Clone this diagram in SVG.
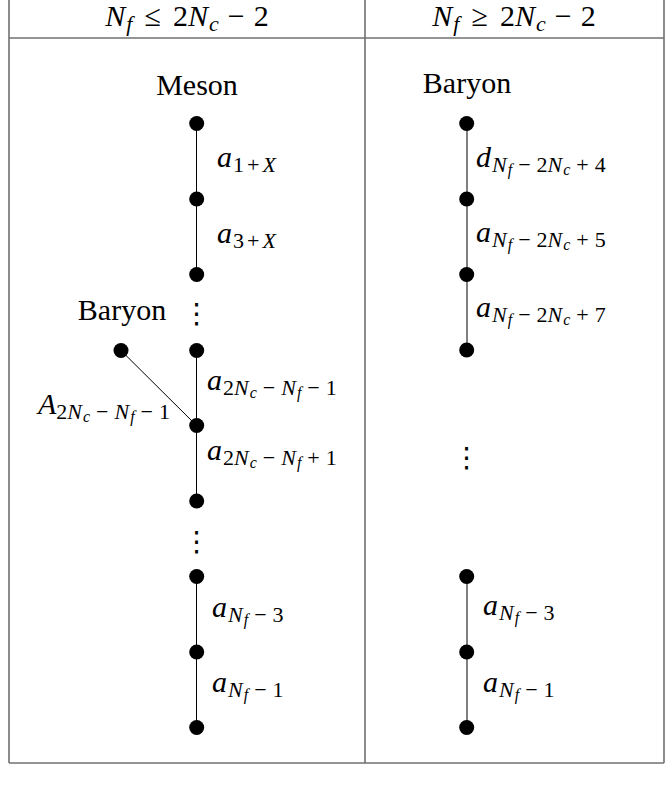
<svg xmlns="http://www.w3.org/2000/svg" width="672" height="791" viewBox="0 0 672 791">
<style>
.t{font-family:"Liberation Serif","Times New Roman",serif;font-size:30px;fill:#000}
.i{font-style:italic}
.s{font-size:22px}
.ss{font-size:16px}
.dots{font-family:"DejaVu Serif","DejaVu Sans",serif;font-size:28px;fill:#000}
.grid{stroke:#707070;stroke-width:1.6;fill:none}
.e{stroke:#000;stroke-width:1;fill:none}
.n{fill:#000}
</style>
<rect width="672" height="791" fill="#fff"/>
<g id="table">
<line class="grid" x1="9" y1="0" x2="9" y2="763"/>
<line class="grid" x1="365" y1="0" x2="365" y2="763"/>
<line class="grid" x1="664" y1="0" x2="664" y2="763"/>
<line class="grid" x1="9" y1="38" x2="664" y2="38"/>
<line class="grid" x1="9" y1="763" x2="664" y2="763"/>
</g>
<g id="headers">
<text class="t" x="187" y="26" text-anchor="middle"><tspan class="i">N</tspan><tspan class="s i" dy="5" dx="1">f</tspan><tspan dy="-5" dx="12">≤</tspan><tspan dx="12">2</tspan><tspan class="i">N</tspan><tspan class="s i" dy="5" dx="1">c</tspan><tspan dy="-5" dx="9">−</tspan><tspan dx="9">2</tspan></text>
<text class="t" x="514" y="26" text-anchor="middle"><tspan class="i">N</tspan><tspan class="s i" dy="5" dx="1">f</tspan><tspan dy="-5" dx="12">≥</tspan><tspan dx="12">2</tspan><tspan class="i">N</tspan><tspan class="s i" dy="5" dx="1">c</tspan><tspan dy="-5" dx="9">−</tspan><tspan dx="9">2</tspan></text>
</g>
<g id="connectors">
<line class="e" x1="196.5" y1="123.5" x2="196.5" y2="199"/>
<line class="e" x1="196.5" y1="199" x2="196.5" y2="274.5"/>
<line class="e" x1="196.5" y1="350.5" x2="196.5" y2="425.5"/>
<line class="e" x1="196.5" y1="425.5" x2="196.5" y2="501"/>
<line class="e" x1="121" y1="350.5" x2="196.5" y2="425.5"/>
<line class="e" x1="196.5" y1="576.5" x2="196.5" y2="652"/>
<line class="e" x1="196.5" y1="652" x2="196.5" y2="727.5"/>
<line class="e" x1="467" y1="123.5" x2="467" y2="199"/>
<line class="e" x1="467" y1="199" x2="467" y2="274.5"/>
<line class="e" x1="467" y1="274.5" x2="467" y2="350"/>
<line class="e" x1="467" y1="576.5" x2="467" y2="652"/>
<line class="e" x1="467" y1="652" x2="467" y2="727.5"/>
</g>
<g id="meson-label"><text class="t" x="197" y="95" text-anchor="middle">Meson</text></g>
<g id="L1"><circle class="n" cx="196.7" cy="123.5" r="7.5"/></g>
<g id="L2"><circle class="n" cx="196.7" cy="199" r="7.5"/></g>
<g id="L3"><circle class="n" cx="196.7" cy="274.5" r="7.5"/></g>
<g id="Lbaryon"><text class="t" x="122" y="320" text-anchor="middle">Baryon</text><circle class="n" cx="121" cy="350.5" r="7.5"/></g>
<g id="L4"><circle class="n" cx="196.7" cy="350.5" r="7.5"/></g>
<g id="L5"><circle class="n" cx="196.7" cy="425.5" r="7.5"/></g>
<g id="L6"><circle class="n" cx="196.7" cy="501" r="7.5"/></g>
<g id="L7"><circle class="n" cx="196.7" cy="576.5" r="7.5"/></g>
<g id="L8"><circle class="n" cx="196.7" cy="652" r="7.5"/></g>
<g id="L9"><circle class="n" cx="196.7" cy="727.5" r="7.5"/></g>
<g id="left-dots">
<text class="dots" x="196.7" y="323" text-anchor="middle">⋮</text>
<text class="dots" x="196.7" y="551" text-anchor="middle">⋮</text>
</g>
<g id="left-labels">
<text class="t" x="217" y="167"><tspan class="i">a</tspan><tspan class="s" dy="5" dx="1">1<tspan dx="3">+</tspan><tspan class="i" dx="3">X</tspan></tspan></text>
<text class="t" x="217" y="243"><tspan class="i">a</tspan><tspan class="s" dy="5" dx="1">3<tspan dx="3">+</tspan><tspan class="i" dx="3">X</tspan></tspan></text>
<text class="t" x="170" y="414" text-anchor="end"><tspan class="i">A</tspan><tspan class="s" dy="5">2<tspan class="i">N</tspan><tspan class="ss i" dy="3" dx="1">c</tspan><tspan dy="-3" dx="6">−</tspan><tspan class="i" dx="6">N</tspan><tspan class="ss i" dy="3" dx="1">f</tspan><tspan dy="-3" dx="6">−</tspan><tspan dx="6">1</tspan></tspan></text>
<text class="t" x="207" y="390"><tspan class="i">a</tspan><tspan class="s" dy="5" dx="1">2<tspan class="i">N</tspan><tspan class="ss i" dy="3" dx="1">c</tspan><tspan dy="-3" dx="6">−</tspan><tspan class="i" dx="6">N</tspan><tspan class="ss i" dy="3" dx="1">f</tspan><tspan dy="-3" dx="6">−</tspan><tspan dx="6">1</tspan></tspan></text>
<text class="t" x="207" y="460"><tspan class="i">a</tspan><tspan class="s" dy="5" dx="1">2<tspan class="i">N</tspan><tspan class="ss i" dy="3" dx="1">c</tspan><tspan dy="-3" dx="6">−</tspan><tspan class="i" dx="6">N</tspan><tspan class="ss i" dy="3" dx="1">f</tspan><tspan dy="-3" dx="6">+</tspan><tspan dx="6">1</tspan></tspan></text>
<text class="t" x="212" y="617"><tspan class="i">a</tspan><tspan class="s i" dy="5" dx="1">N</tspan><tspan class="ss i" dy="3" dx="1">f</tspan><tspan class="s" dy="-3" dx="6">−</tspan><tspan class="s" dx="6">3</tspan></text>
<text class="t" x="212" y="692"><tspan class="i">a</tspan><tspan class="s i" dy="5" dx="1">N</tspan><tspan class="ss i" dy="3" dx="1">f</tspan><tspan class="s" dy="-3" dx="6">−</tspan><tspan class="s" dx="6">1</tspan></text>
</g>
<g id="Rbaryon"><text class="t" x="467" y="93" text-anchor="middle">Baryon</text></g>
<g id="R1"><circle class="n" cx="466.7" cy="123.5" r="7.5"/></g>
<g id="R2"><circle class="n" cx="466.7" cy="199" r="7.5"/></g>
<g id="R3"><circle class="n" cx="466.7" cy="274.5" r="7.5"/></g>
<g id="R4"><circle class="n" cx="466.7" cy="350" r="7.5"/></g>
<g id="R5"><circle class="n" cx="466.7" cy="576.5" r="7.5"/></g>
<g id="R6"><circle class="n" cx="466.7" cy="652" r="7.5"/></g>
<g id="R7"><circle class="n" cx="466.7" cy="727.5" r="7.5"/></g>
<g id="right-dots"><text class="dots" x="466.7" y="467" text-anchor="middle">⋮</text></g>
<g id="right-labels">
<text class="t" x="476" y="167"><tspan class="i">d</tspan><tspan class="s i" dy="5" dx="1">N</tspan><tspan class="ss i" dy="3" dx="1">f</tspan><tspan class="s" dy="-3" dx="6">−</tspan><tspan class="s" dx="6">2</tspan><tspan class="s i">N</tspan><tspan class="ss i" dy="3" dx="1">c</tspan><tspan class="s" dy="-3" dx="6">+</tspan><tspan class="s" dx="6">4</tspan></text>
<text class="t" x="476" y="242"><tspan class="i">a</tspan><tspan class="s i" dy="5" dx="1">N</tspan><tspan class="ss i" dy="3" dx="1">f</tspan><tspan class="s" dy="-3" dx="6">−</tspan><tspan class="s" dx="6">2</tspan><tspan class="s i">N</tspan><tspan class="ss i" dy="3" dx="1">c</tspan><tspan class="s" dy="-3" dx="6">+</tspan><tspan class="s" dx="6">5</tspan></text>
<text class="t" x="476" y="317"><tspan class="i">a</tspan><tspan class="s i" dy="5" dx="1">N</tspan><tspan class="ss i" dy="3" dx="1">f</tspan><tspan class="s" dy="-3" dx="6">−</tspan><tspan class="s" dx="6">2</tspan><tspan class="s i">N</tspan><tspan class="ss i" dy="3" dx="1">c</tspan><tspan class="s" dy="-3" dx="6">+</tspan><tspan class="s" dx="6">7</tspan></text>
<text class="t" x="483" y="615"><tspan class="i">a</tspan><tspan class="s i" dy="5" dx="1">N</tspan><tspan class="ss i" dy="3" dx="1">f</tspan><tspan class="s" dy="-3" dx="6">−</tspan><tspan class="s" dx="6">3</tspan></text>
<text class="t" x="483" y="692"><tspan class="i">a</tspan><tspan class="s i" dy="5" dx="1">N</tspan><tspan class="ss i" dy="3" dx="1">f</tspan><tspan class="s" dy="-3" dx="6">−</tspan><tspan class="s" dx="6">1</tspan></text>
</g>
</svg>
